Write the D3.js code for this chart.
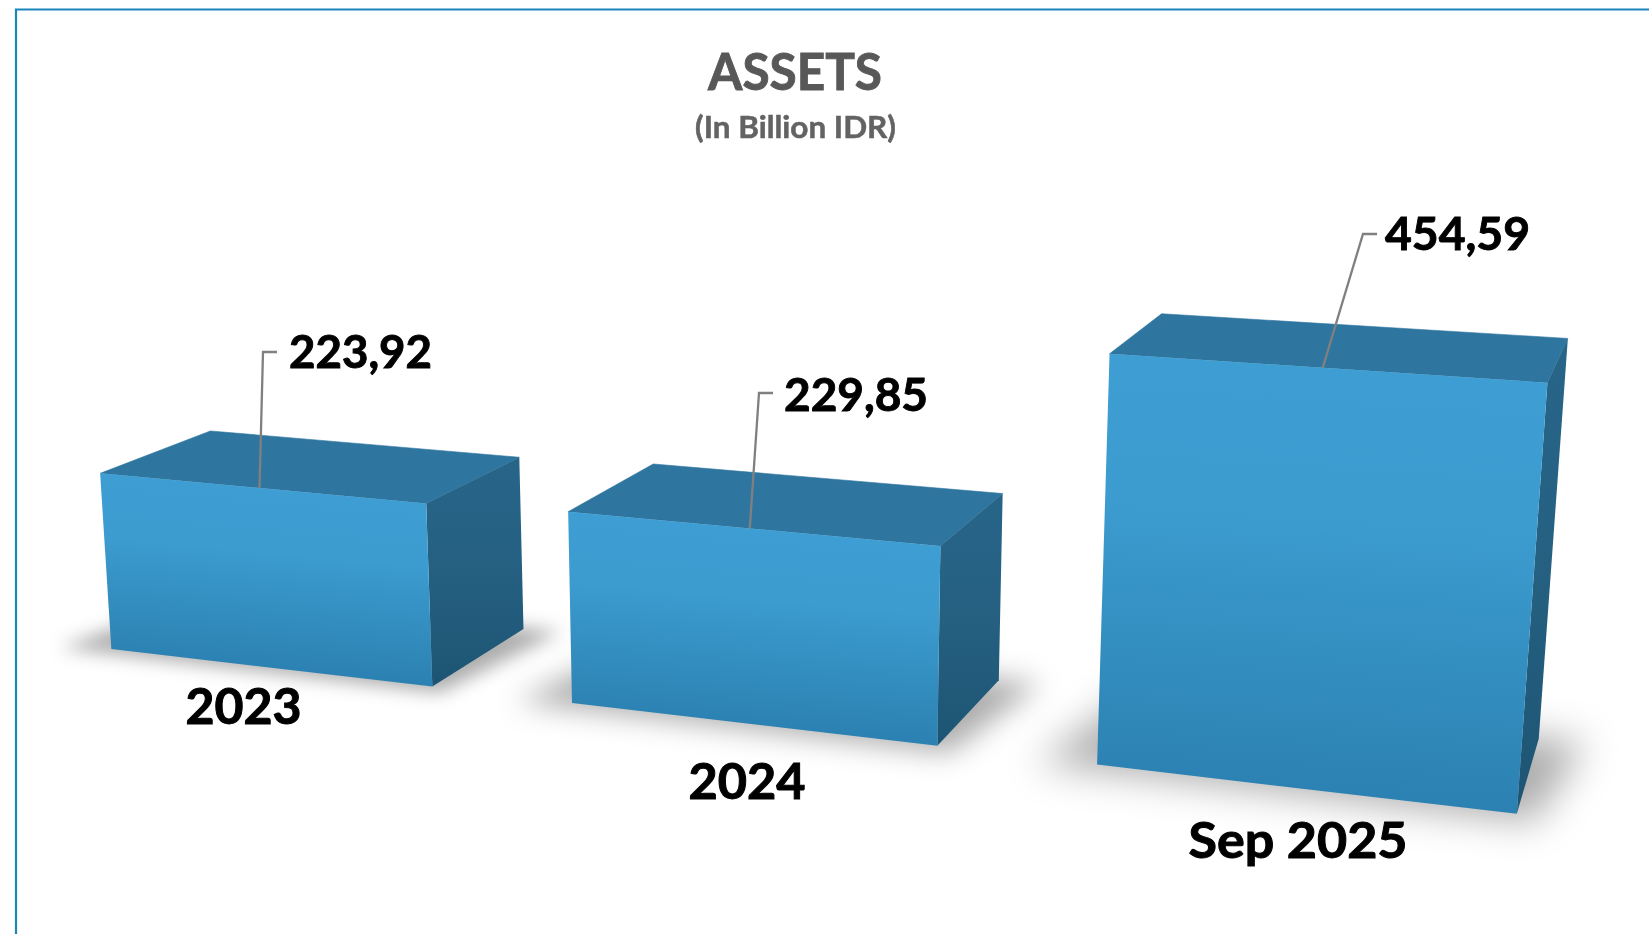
<!DOCTYPE html>
<html>
<head>
<meta charset="utf-8">
<script src="https://d3js.org/d3.v7.min.js"></script>
<style>
    html, body { margin: 0; background: #fff; }
    svg { display: block; }
    text { font-family: Lato, "Open Sans", sans-serif; font-weight: 700; }
</style>
</head>
<body>
<svg class="chart" width="1649" height="934"></svg>
<script>
var categories = ["2023", "2024", "Sep 2025"];
var assets = [223.92, 229.85, 454.59];

function show() {

    'use strict';

    var svg = d3.select(".chart");
    var defs = svg.append("defs");

    // chart space: x = band, y = value, z = depth. The camera was fitted to the
    // picture, it is a plain 3x4 projection
    var camera = [
        [425.570, -5.730, 122.711, 111.340],
        [10.932, -81.884, -12.488, 648.940],
        [-0.061343, -0.007335, 0.067839, 1]
    ];

    function project(p) {
        var d = camera[2][0] * p[0] + camera[2][1] * p[1] + camera[2][2] * p[2] + camera[2][3];
        return [
            (camera[0][0] * p[0] + camera[0][1] * p[1] + camera[0][2] * p[2] + camera[0][3]) / d,
            (camera[1][0] * p[0] + camera[1][1] * p[1] + camera[1][2] * p[2] + camera[1][3]) / d
        ];
    }

    var gap = 0.29;
    var x = d3.scaleBand().domain(categories).range([0, 3 - gap]).paddingInner(gap);
    var y = d3.scaleLinear().domain([0, 500]).range([0, 5]);
    var z = d3.scaleLinear().domain([0, 1]).range([0, 1]);

    var face = d3.line().curve(d3.curveLinearClosed);
    var line = d3.line();
    var fmt = d3.formatLocale({decimal: ",", thousands: ".", grouping: [3], currency: ["", ""]}).format(".2f");

    function corners(cat, v) {
        var x0 = x(cat), x1 = x0 + x.bandwidth(), h = y(v), z0 = z(0), z1 = z(1);
        return {
            front: [[x0, h, z0], [x1, h, z0], [x1, 0, z0], [x0, 0, z0]].map(project),
            top: [[x0, h, z0], [x0, h, z1], [x1, h, z1], [x1, h, z0]].map(project),
            side: [[x1, h, z0], [x1, h, z1], [x1, 0, z1], [x1, 0, z0]].map(project),
            shadow: [[x0 - 0.1, 0, -0.07], [x1 + 0.03, 0, -0.07], [x1 + 0.08, 0, 1.02], [x0 - 0.03, 0, 1.02]].map(project)
        };
    }

    var data = categories.map(function(c, i) { return {cat: c, value: assets[i], pts: corners(c, assets[i])}; });

    // front gradient runs square to the top edge of each bar
    data.forEach(function(d, i) {
        var a = d.pts.front[0], b = d.pts.front[1], c = d.pts.front[2];
        var ex = b[0] - a[0], ey = b[1] - a[1], len = Math.hypot(ex, ey);
        var nx = -ey / len, ny = ex / len;
        var depth = (c[0] - a[0]) * nx + (c[1] - a[1]) * ny;
        var g = defs.append("linearGradient").attr("id", "front" + i)
            .attr("gradientUnits", "userSpaceOnUse")
            .attr("x1", a[0]).attr("y1", a[1])
            .attr("x2", a[0] + nx * depth).attr("y2", a[1] + ny * depth);
        g.append("stop").attr("offset", "0%").attr("stop-color", "#3e9ed3");
        g.append("stop").attr("offset", "35%").attr("stop-color", "#3c9bcf");
        g.append("stop").attr("offset", "100%").attr("stop-color", "#2b81b1");

        defs.append("filter").attr("id", "soft" + i)
            .attr("x", "-30%").attr("y", "-80%").attr("width", "160%").attr("height", "260%")
            .append("feGaussianBlur").attr("stdDeviation", 9 + i * 5);
    });

    var sg = defs.append("linearGradient").attr("id", "sideFill")
        .attr("x1", 0).attr("y1", 0).attr("x2", 0).attr("y2", 1);
    sg.append("stop").attr("offset", "0%").attr("stop-color", "#276589");
    sg.append("stop").attr("offset", "50%").attr("stop-color", "#256081");
    sg.append("stop").attr("offset", "100%").attr("stop-color", "#1d5473");

    defs.append("filter").attr("id", "textSoft")
        .append("feGaussianBlur").attr("stdDeviation", 0.5);

    // frame
    svg.append("path")
        .attr("d", "M16,934V9.5H1649")
        .attr("fill", "none")
        .attr("stroke", "#1a86bc")
        .attr("stroke-width", 2.2);

    var labels = svg.append("g").attr("filter", "url(#textSoft)");

    // title
    labels.append("text").attr("x", 795).attr("y", 90)
        .attr("text-anchor", "middle").attr("font-size", 51).attr("fill", "#595959")
        .attr("stroke", "#595959").attr("stroke-width", 0.9)
        .attr("textLength", 174).attr("lengthAdjust", "spacingAndGlyphs")
        .text("ASSETS");
    labels.append("text").attr("x", 795.5).attr("y", 138)
        .attr("text-anchor", "middle").attr("font-size", 30).attr("fill", "#636363")
        .attr("stroke", "#636363").attr("stroke-width", 0.5)
        .attr("textLength", 201).attr("lengthAdjust", "spacingAndGlyphs")
        .text("(In Billion IDR)");

    // floor shadows go first, all of them sit under the bars
    svg.append("g").selectAll("path").data(data).enter().append("path")
        .attr("d", function(d) { return face(d.pts.shadow); })
        .attr("fill", "#000")
        .attr("fill-opacity", 0.32)
        .attr("filter", function(d, i) { return "url(#soft" + i + ")"; });

    var bars = svg.append("g").selectAll("g").data(data).enter().append("g");
    bars.append("path")
        .attr("d", function(d) { return face(d.pts.top); })
        .attr("fill", "#2e759f")
        .attr("stroke", "#2e759f").attr("stroke-width", 0.6);
    bars.append("path")
        .attr("d", function(d) { return face(d.pts.side); })
        .attr("fill", "url(#sideFill)");
    bars.append("path")
        .attr("d", function(d) { return face(d.pts.front); })
        .attr("fill", function(d, i) { return "url(#front" + i + ")"; });

    // leader lines go from the front top edge of the bar up to the value label
    var elbows = [[263, 352], [759, 393], [1363, 234]];
    var valueLabelX = [289, 784, 1385];
    var valueLabelY = [368, 411, 250];
    var valueLabelW = [143, 144, 145];
    var catLabelX = [243.5, 747, 1298];
    var catLabelY = [724, 799, 858];
    var catLabelW = [116, 117, 219];

    svg.append("g").selectAll("path").data(data).enter().append("path")
        .attr("d", function(d, i) {
            var start = project([x(d.cat) + x.bandwidth() / 2, y(d.value), z(0)]);
            return line([start, elbows[i], [elbows[i][0] + 14, elbows[i][1]]]);
        })
        .attr("fill", "none")
        .attr("stroke", "#808080")
        .attr("stroke-width", 2.3);

    labels.append("g").selectAll("text").data(data).enter().append("text")
        .attr("x", function(d, i) { return valueLabelX[i]; })
        .attr("y", function(d, i) { return valueLabelY[i]; })
        .attr("font-size", 45)
        .attr("fill", "#000").attr("stroke", "#000").attr("stroke-width", 0.9)
        .attr("textLength", function(d, i) { return valueLabelW[i]; }).attr("lengthAdjust", "spacingAndGlyphs")
        .text(function(d) { return fmt(d.value); });

    labels.append("g").selectAll("text").data(data).enter().append("text")
        .attr("x", function(d, i) { return catLabelX[i]; })
        .attr("y", function(d, i) { return catLabelY[i]; })
        .attr("text-anchor", "middle")
        .attr("font-size", 50)
        .attr("fill", "#000").attr("stroke", "#000").attr("stroke-width", 1)
        .attr("textLength", function(d, i) { return catLabelW[i]; }).attr("lengthAdjust", "spacingAndGlyphs")
        .text(function(d) { return d.cat; });

    labels.raise();
}

show();
</script>
</body>
</html>
